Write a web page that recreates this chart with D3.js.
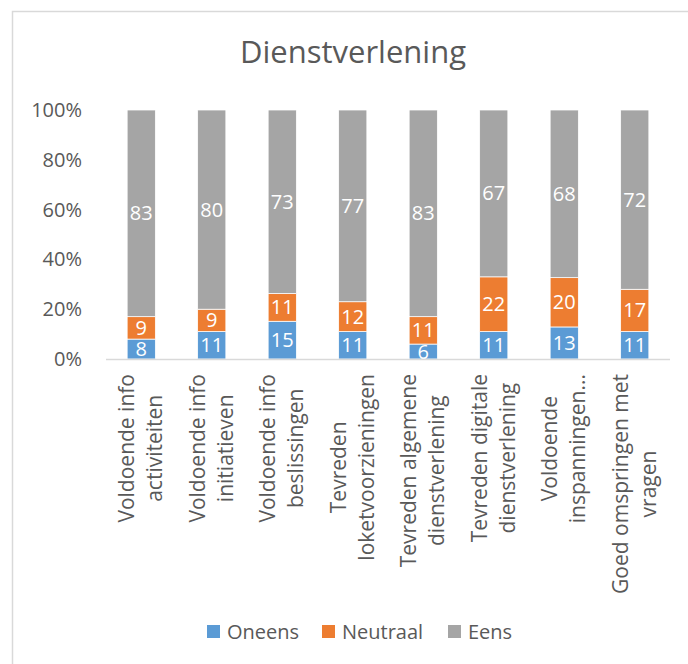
<!DOCTYPE html>
<html>
<head>
<meta charset="utf-8">
<script src="https://cdn.jsdelivr.net/npm/d3@7"></script>
<style>
  body { margin: 0; background: #fff; }
  text { font-family: "Open Sans", sans-serif; }
</style>
</head>
<body>
<script>
// data
var categories = [
  ["Voldoende info", "activiteiten"],
  ["Voldoende info", "initiatieven"],
  ["Voldoende info", "beslissingen"],
  ["Tevreden", "loketvoorzieningen"],
  ["Tevreden algemene", "dienstverlening"],
  ["Tevreden digitale", "dienstverlening"],
  ["Voldoende", "inspanningen..."],
  ["Goed omspringen met", "vragen"]
];
var oneens   = [8, 11, 15, 11, 6, 11, 13, 11];
var neutraal = [9, 9, 11, 12, 11, 22, 20, 17];
var eens     = [83, 80, 73, 77, 83, 67, 68, 72];
var seriesNames = ["Oneens", "Neutraal", "Eens"];
var colors = ["#5B9BD5", "#ED7D31", "#A5A5A5"];
var yTicks = [0, 0.2, 0.4, 0.6, 0.8, 1];

var w = 688, h = 664;
var svg = d3.select("body").append("svg")
  .attr("width", w)
  .attr("height", h);

// chart border
svg.append("rect")
  .attr("x", 12.5).attr("y", 11.5)
  .attr("width", 700).attr("height", 700)
  .attr("fill", "none")
  .attr("stroke", "#D9D9D9")
  .attr("stroke-width", 1.5);

svg.append("text")
  .attr("x", 353).attr("y", 63)
  .attr("text-anchor", "middle")
  .attr("font-size", 31)
  .attr("fill", "#595959")
  .text("Dienstverlening");

var rows = categories.map(function(c, i) {
  return { key: i, Oneens: oneens[i], Neutraal: neutraal[i], Eens: eens[i] };
});
var stacked = d3.stack().keys(seriesNames).offset(d3.stackOffsetExpand)(rows);

var x = d3.scaleBand()
  .domain(d3.range(categories.length))
  .range([106, 670])
  .paddingInner(0.6)
  .paddingOuter(0.3);

var y = d3.scaleLinear().domain([0, 1]).range([359, 110]);

// y axis labels
var yAxis = d3.axisLeft(y).tickValues(yTicks).tickSize(0).tickPadding(0)
  .tickFormat(d3.format(".0%"));
var ya = svg.append("g").attr("transform", "translate(82,0)").call(yAxis);
ya.select(".domain").remove();
ya.selectAll("text")
  .attr("font-size", 20)
  .attr("fill", "#595959")
  .attr("font-family", "Open Sans, sans-serif");

// bars
var groups = svg.selectAll("g.series").data(stacked).enter()
  .append("g").attr("class", "series")
  .attr("fill", function(d, i) { return colors[i]; });

groups.selectAll("rect").data(function(d) { return d; }).enter()
  .append("rect")
  .attr("x", function(d, i) { return x(i); })
  .attr("y", function(d) { return y(d[1]); })
  .attr("width", x.bandwidth())
  .attr("height", function(d) { return y(d[0]) - y(d[1]); })
  .attr("stroke", "#fff")
  .attr("stroke-width", 0.75);

// data labels (bottom ones clipped at the axis like the original)
svg.append("clipPath").attr("id", "plotclip")
  .append("rect").attr("x", 0).attr("y", 0).attr("width", w).attr("height", 359);

groups.selectAll("text").data(function(d) {
    return d.map(function(v) { return { v: v, key: d.key }; });
  }).enter()
  .append("text")
  .attr("clip-path", "url(#plotclip)")
  .attr("x", function(d, i) { return x(i) + x.bandwidth() / 2; })
  .attr("y", function(d) { return (y(d.v[0]) + y(d.v[1])) / 2 + 7; })
  .attr("text-anchor", "middle")
  .attr("font-size", 20)
  .attr("fill", "#fff")
  .text(function(d) { return d.v.data[d.key]; });

// x axis line
svg.append("line")
  .attr("x1", 106).attr("x2", 670)
  .attr("y1", 359.5).attr("y2", 359.5)
  .attr("stroke", "#D9D9D9")
  .attr("stroke-width", 1.5);

// x labels, rotated
var measure = svg.append("text").attr("font-size", 21).attr("visibility", "hidden");
function textLen(s) { measure.text(s); return measure.node().getComputedTextLength(); }

categories.forEach(function(lines, i) {
  var cx = x(i) + x.bandwidth() / 2;
  var maxLen = d3.max(lines, textLen);
  var cy = 374 + maxLen / 2;
  var g = svg.append("g")
    .attr("transform", "translate(" + cx + "," + cy + ") rotate(-90)");
  lines.forEach(function(line, j) {
    g.append("text")
      .attr("x", 0)
      .attr("y", (j - (lines.length - 1) / 2) * 28 + 7)
      .attr("text-anchor", "middle")
      .attr("font-size", 21)
      .attr("fill", "#595959")
      .text(line);
  });
});
measure.remove();

// legend
var legendX = [207, 322, 448];
var legend = svg.selectAll("g.legend").data(seriesNames).enter()
  .append("g").attr("class", "legend")
  .attr("transform", function(d, i) { return "translate(" + legendX[i] + ",632)"; });
legend.append("rect")
  .attr("x", 0).attr("y", -7)
  .attr("width", 13).attr("height", 13)
  .attr("fill", function(d, i) { return colors[i]; });
legend.append("text")
  .attr("x", 20).attr("y", 7)
  .attr("font-size", 20)
  .attr("fill", "#595959")
  .text(function(d) { return d; });
</script>
</body>
</html>
